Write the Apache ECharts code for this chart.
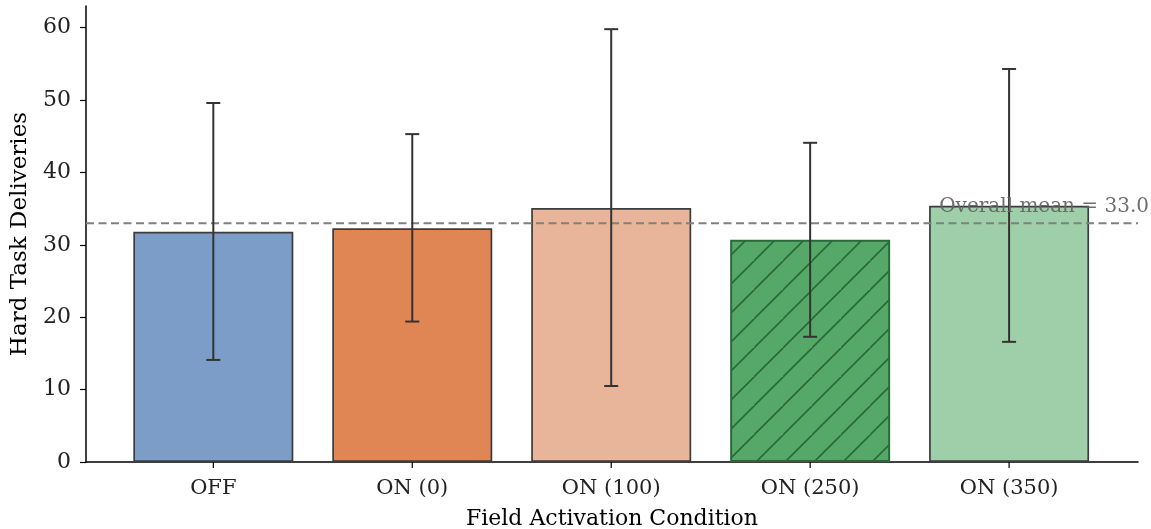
<!DOCTYPE html>
<html><head><meta charset="utf-8">
<script src="https://cdn.jsdelivr.net/npm/echarts@6/dist/echarts.min.js"></script>
<style>html,body{margin:0;padding:0;background:#fff}#c{width:1151px;height:529px}</style>
</head><body><div id="c"></div>
<script>
const categories = ['OFF', 'ON (0)', 'ON (100)', 'ON (250)', 'ON (350)'];
const means = [31.8, 32.3, 35.1, 30.7, 35.4];
const errLow = [14.1, 19.4, 10.5, 17.3, 16.6];
const errHigh = [49.6, 45.3, 59.8, 44.1, 54.3];
const overallMean = 33.0;
const yTicks = [0, 10, 20, 30, 40, 50, 60];
const barColors = ['#7b9dc8', '#e08554', '#e8b59a', '#55a868', '#9ecfa8'];

function hatch() {
  const c = document.createElement('canvas');
  const s = 29; c.width = s; c.height = s;
  const g = c.getContext('2d');
  g.fillStyle = '#55a868'; g.fillRect(0, 0, s, s);
  g.strokeStyle = '#2a6a38'; g.lineWidth = 1.6;
  g.beginPath();
  g.moveTo(-2, s + 2); g.lineTo(s + 2, -2);
  g.moveTo(-2 - s, s + 2); g.lineTo(2, -2);
  g.moveTo(s - 2, 2 * s + 2); g.lineTo(2 * s + 2, s - 2);
  g.stroke();
  return c;
}
const F = 'DejaVu Serif';
const chart = echarts.init(document.getElementById('c'));
const barData = means.map((v, i) => ({
  value: [i, v],
  itemStyle: i === 3
    ? { color: { image: hatch(), repeat: 'repeat' }, borderColor: '#2a6a38', borderWidth: 2 }
    : { color: barColors[i], borderColor: '#3c3c3c', borderWidth: 1.7 }
}));
chart.setOption({
  animation: false,
  grid: { left: 86, right: 13, top: 6, bottom: 67, containLabel: false, outerBoundsMode: 'none' },
  xAxis: {
    type: 'value', min: -0.64, max: 4.648, interval: 1,
    axisLine: { onZero: false, lineStyle: { color: '#000', width: 1.5 } },
    axisTick: { show: false },
    splitLine: { show: false },
    axisLabel: { show: false },
    name: 'Field Activation Condition', nameLocation: 'middle', nameGap: 46,
    nameTextStyle: { fontFamily: F, fontSize: 22, color: '#000' }
  },
  yAxis: {
    type: 'value', min: 0, max: 63, interval: 10,
    axisLine: { show: true, onZero: false, lineStyle: { color: '#000', width: 1.5 } },
    axisTick: { show: true, length: 6, lineStyle: { color: '#000', width: 1.2 } },
    splitLine: { show: false },
    axisLabel: { fontFamily: F, fontSize: 22, color: '#222', margin: 15,
      showMaxLabel: false,
      formatter: v => yTicks.includes(v) ? String(v) : '' },
    name: 'Hard Task Deliveries', nameLocation: 'middle', nameGap: 54,
    nameTextStyle: { fontFamily: F, fontSize: 23, color: '#000' }
  },
  series: [
    { type: 'bar', data: barData, barWidth: 160, z: 2 },
    {
      type: 'custom', z: 3,
      data: categories.map((c, i) => [i, overallMean]),
      renderItem(params, api) {
        if (params.dataIndex !== 0) return null;
        const a = api.coord([-0.64, overallMean]);
        const b = api.coord([4.648, overallMean]);
        return { type: 'line', shape: { x1: a[0], y1: a[1], x2: b[0], y2: b[1] },
          style: { stroke: '#808080', lineWidth: 2, lineDash: [8, 4.5] } };
      }
    },
    {
      type: 'custom', z: 4,
      data: categories.map((c, i) => [i, errLow[i], errHigh[i]]),
      renderItem(params, api) {
        const lo = api.coord([api.value(0), api.value(1)]);
        const hi = api.coord([api.value(0), api.value(2)]);
        const st = { stroke: '#333', lineWidth: 2 };
        return { type: 'group', children: [
          { type: 'line', shape: { x1: lo[0], y1: lo[1], x2: hi[0], y2: hi[1] }, style: st },
          { type: 'line', shape: { x1: lo[0] - 7, y1: lo[1], x2: lo[0] + 7, y2: lo[1] }, style: st },
          { type: 'line', shape: { x1: hi[0] - 7, y1: hi[1], x2: hi[0] + 7, y2: hi[1] }, style: st }
        ] };
      }
    },
    {
      type: 'custom', z: 5,
      data: categories.map((c, i) => [i, 0]),
      renderItem(params, api) {
        const p = api.coord([api.value(0), 0]);
        return { type: 'group', children: [
          { type: 'line', shape: { x1: p[0], y1: p[1], x2: p[0], y2: p[1] + 6 }, style: { stroke: '#000', lineWidth: 1.2 } },
          { type: 'text', style: { x: p[0], y: p[1] + 16, text: categories[params.dataIndex], textAlign: 'center', textVerticalAlign: 'top', fontFamily: F, fontSize: 21, fill: '#222' } }
        ] };
      }
    },
    {
      type: 'custom', z: 6,
      data: [[4.648, overallMean]],
      renderItem(params, api) {
        const p = api.coord([api.value(0), api.value(1)]);
        return { type: 'text', style: { x: p[0] + 11, y: p[1] - 16, text: 'Overall mean = ' + overallMean.toFixed(1), textAlign: 'right', textVerticalAlign: 'middle', fontFamily: F, fontSize: 20, fill: '#666', opacity: 0.95 } };
      }
    }
  ]
});
</script></body></html>
